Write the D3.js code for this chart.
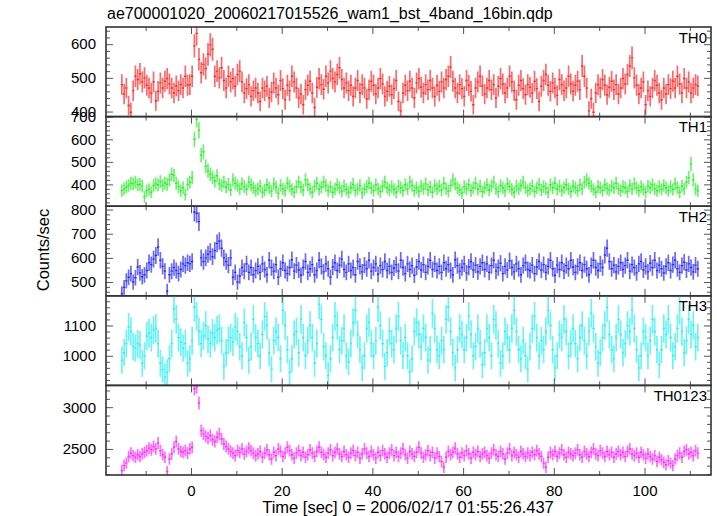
<!DOCTYPE html>
<html><head><meta charset="utf-8">
<script src="https://cdn.jsdelivr.net/npm/d3@7"></script>
<style>
body{margin:0;background:#fff;}
svg text{font-family:"Liberation Sans",Arial,Helvetica,sans-serif;fill:#000;}
</style>
</head><body>
<svg id="chart" width="717" height="516"></svg>
<script>
// ---------------- data (0.5 s bins starting at t = -15.5 s) ----------------
const binWidth = 0.5;
const tStart = -15.5;
const bandNames = ["TH0", "TH1", "TH2", "TH3", "TH0123"];

const th0 = [
480,452,470,418,398,462,505,495,512,488,500,478,470,455,488,432,460,485,470,490,
498,482,470,455,476,462,480,470,505,478,480,505,595,632,555,515,540,528,570,598,
585,505,520,500,530,492,470,505,488,498,475,510,520,488,455,468,480,445,462,470,
455,430,470,462,475,440,458,485,470,450,492,468,435,478,462,505,488,470,440,452,
420,465,478,490,455,412,472,498,480,466,505,485,520,498,488,510,530,495,470,485,
462,478,445,470,492,455,480,470,438,465,490,478,452,470,498,482,445,460,475,450,
468,492,430,402,455,478,462,490,470,440,485,498,472,455,480,465,492,470,445,478,
460,488,470,495,505,532,490,470,455,480,468,445,492,478,460,420,470,488,505,476,
452,470,492,465,480,440,475,498,482,455,470,505,488,462,435,478,492,468,450,480,
472,455,490,468,430,475,492,510,478,460,485,470,448,495,480,462,470,505,482,460,
478,490,465,535,505,470,402,438,398,455,480,470,495,478,450,472,490,465,480,452,
470,498,482,510,535,560,500,478,452,470,488,420,462,445,470,492,478,455,435,470,
452,480,468,490,470,505,482,455,498,470,488,455,470,480,476];

const th1 = [
372,380,388,395,405,402,410,398,400,392,345,372,378,365,395,402,398,412,395,405,
400,420,445,440,405,390,372,385,355,400,410,430,600,690,640,530,545,480,460,445,
430,415,438,402,395,410,388,400,375,420,405,395,380,402,390,378,410,398,385,372,
380,392,365,375,398,385,370,402,388,360,395,380,372,405,392,378,365,390,410,388,
375,420,398,380,365,392,405,378,388,410,395,372,388,365,380,398,385,370,392,378,
365,385,400,372,380,395,362,378,390,405,385,372,398,380,368,392,410,385,375,390,
378,365,392,385,372,398,380,410,395,372,385,368,392,380,402,375,388,365,395,380,
392,375,405,382,370,395,420,402,385,375,362,390,380,398,372,385,405,378,392,368,
385,398,375,392,410,380,368,395,385,372,402,390,378,365,392,380,395,410,385,372,
380,392,368,385,400,375,390,382,365,398,385,405,378,392,372,385,398,380,368,392,
385,372,398,380,410,420,405,392,378,365,390,385,372,398,382,375,392,385,405,380,
372,390,385,368,395,380,402,385,372,390,378,365,392,385,398,380,372,390,378,395,
385,372,390,378,402,385,365,392,380,410,430,490,420,380,372];

const th2 = [
452,478,505,520,535,500,518,562,538,522,530,548,580,572,595,610,645,590,565,545,
462,530,545,560,548,535,552,575,568,580,575,585,790,785,750,600,585,600,615,625,
605,630,660,670,640,600,585,570,600,520,540,500,525,560,545,575,540,560,530,548,
565,540,575,552,530,590,560,545,572,520,555,580,548,535,560,592,545,570,550,528,
560,585,540,555,572,530,548,590,565,542,575,555,520,562,580,548,570,595,552,540,
575,548,560,530,585,565,542,570,555,590,545,560,575,532,568,552,585,548,565,540,
558,572,545,590,560,535,575,552,568,528,562,585,550,572,540,565,590,552,575,548,
565,540,580,555,572,548,530,592,568,545,560,575,538,562,585,550,570,542,565,580,
552,575,540,568,590,545,560,578,535,565,550,588,560,542,575,555,530,568,580,552,
548,570,535,562,585,550,572,540,565,590,555,528,570,552,580,545,568,555,590,562,
540,565,580,548,572,555,530,568,590,560,548,575,560,612,640,585,555,570,542,565,
580,552,568,590,545,572,560,538,575,585,550,565,542,578,560,590,548,570,555,538,
565,580,548,572,590,555,540,568,582,550,575,560,542,570,555];

const th3 = [
985,1010,1040,1095,1080,1030,1025,1040,1035,975,1000,1065,1075,1060,1085,1090,1040,975,955,930,
945,990,1040,1155,1120,1060,1045,1025,1040,975,990,1050,1160,1130,1080,1040,1065,1100,1055,1040,
1075,1060,1085,1090,1050,965,1010,1050,1060,1045,1095,1080,1030,1000,1110,1060,985,1030,1120,1060,
1040,1000,1070,1130,1100,1010,955,1050,1080,1060,990,1150,1100,1020,945,990,1070,1080,1010,1120,
1060,1000,1050,1100,1060,975,1040,1170,1120,1030,1000,935,990,1060,1130,1100,1020,1050,1090,1000,
980,1040,1110,1150,1070,1020,960,1000,1090,1110,1040,1000,1050,1160,1100,1040,965,1010,1080,1040,
1020,1090,1130,1050,1000,1060,1000,945,990,1080,1110,1070,1030,1090,1060,985,1020,1140,1090,1020,
1000,1050,1020,1120,1160,1080,1010,960,1020,1090,1070,1020,1060,1130,1070,1000,1030,1090,1040,970,
1010,1090,1060,1000,1120,1100,1040,975,1000,1080,1060,1020,1090,1150,1080,1020,990,1050,1000,955,
1030,1090,1130,1060,1000,1050,1020,1080,1150,1100,1020,960,1000,1070,1060,1120,1080,1000,1040,1090,
1040,990,1060,1100,1050,1000,1080,1140,1090,1030,975,1010,1060,1100,1160,1070,1020,990,1060,1120,
1070,1010,1040,1100,1080,1150,1090,1020,960,1000,1080,1060,1000,1050,1120,1080,1020,970,1020,1090,
1070,1120,1060,1000,1030,1090,1150,1080,1010,1050,1120,1070,1100,1030,1060];

const th0123 = [
2240,2300,2330,2410,2450,2420,2400,2430,2410,2440,2460,2480,2510,2490,2530,2500,2570,2480,2430,2400,
2230,2380,2440,2520,2590,2500,2470,2460,2480,2450,2500,2520,3220,3245,3050,2720,2680,2650,2630,2660,
2610,2590,2640,2680,2620,2560,2530,2500,2470,2450,2420,2480,2460,2500,2440,2470,2510,2480,2450,2420,
2440,2470,2400,2450,2490,2430,2380,2460,2420,2500,2470,2410,2450,2520,2480,2430,2390,2450,2480,2420,
2460,2400,2430,2490,2450,2410,2470,2520,2460,2430,2400,2450,2490,2420,2460,2500,2440,2410,2470,2430,
2400,2450,2480,2420,2460,2390,2440,2500,2450,2410,2470,2430,2390,2460,2420,2480,2440,2400,2450,2490,
2420,2460,2410,2450,2500,2430,2390,2470,2440,2410,2460,2520,2450,2400,2430,2480,2420,2460,2390,2450,
2410,2350,2280,2400,2470,2430,2460,2510,2440,2400,2450,2420,2480,2440,2390,2460,2430,2470,2410,2440,
2460,2420,2390,2450,2490,2430,2410,2470,2440,2380,2450,2500,2420,2460,2430,2400,2470,2440,2410,2450,
2420,2460,2430,2480,2440,2410,2330,2280,2400,2460,2430,2470,2410,2450,2490,2430,2400,2460,2440,2420,
2450,2490,2430,2400,2470,2440,2410,2460,2500,2440,2420,2480,2450,2410,2470,2430,2460,2400,2440,2470,
2430,2460,2410,2470,2500,2440,2420,2450,2400,2460,2430,2390,2440,2410,2380,2420,2350,2400,2370,2340,
2310,2360,2330,2300,2380,2420,2450,2400,2470,2490,2440,2460,2420,2480,2450];

const seriesValues = [th0, th1, th2, th3, th0123];

// axis settings
const yDomains = [[385, 651], [303, 701], [443, 814], [902, 1198], [2188, 3261]];
const yMajorTicks = [[400, 500, 600], [400, 500, 600, 700], [500, 600, 700, 800], [1000, 1100], [2500, 3000]];
const yMinorStep = [20, 20, 20, 20, 100];
const xTickLabels = [0, 20, 40, 60, 80, 100];
const xMinorTicks = [-10, 10, 30, 50, 70, 90, 110];
const xDomain = [-18.74, 114.66];

const title = "ae700001020_20060217015526_wam1_bst_4band_16bin.qdp";
const xTitle = "Time [sec] 0 = 2006/02/17 01:55:26.437";
const yTitle = "Counts/sec";
const colors = ["#ff2a2a", "#2eee2e", "#2a2aff", "#2ef0f0", "#ff2eff"];

// ---------------- layout ----------------
const left = 106, right = 711, top0 = 27, panelH = 89.6;
const svg = d3.select("#chart");
const fmt = d3.format("d");

const x = d3.scaleLinear().domain(xDomain).range([left, right]);

// error from Poisson statistics of counts in a bin
const errOf = v => Math.sqrt(v / binWidth);

seriesValues.forEach((vals, p) => {
  const yTop = top0 + p * panelH, yBot = yTop + panelH;
  const y = d3.scaleLinear().domain(yDomains[p]).range([yBot, yTop]);
  const g = svg.append("g");

  const clipId = "clip" + p;
  svg.append("clipPath").attr("id", clipId)
    .append("rect").attr("x", left).attr("y", yTop).attr("width", right - left).attr("height", panelH);

  // y error bars and x error bars (bin widths)
  const ePath = d3.path(), sPath = d3.path();
  vals.forEach((v, i) => {
    const t0 = tStart + i * binWidth, t1 = t0 + binWidth, tc = t0 + binWidth / 2;
    const e = errOf(v);
    sPath.moveTo(x(t0), y(v)); sPath.lineTo(x(t1), y(v));
    ePath.moveTo(x(tc), y(v - e)); ePath.lineTo(x(tc), y(v + e));
  });
  const dg = g.append("g").attr("clip-path", "url(#" + clipId + ")");
  dg.append("path").attr("d", ePath.toString())
    .attr("fill", "none").attr("stroke", colors[p]).attr("stroke-width", 1.7).attr("stroke-opacity", 0.7);
  dg.append("path").attr("d", sPath.toString())
    .attr("fill", "none").attr("stroke", colors[p]).attr("stroke-width", 1.4);

  const [d0, d1] = yDomains[p];
  const minor = d3.range(Math.ceil(d0 / yMinorStep[p]) * yMinorStep[p], d1, yMinorStep[p])
    .filter(v => !yMajorTicks[p].includes(v));
  const styleAxis = sel => {
    sel.select(".domain").remove();
    sel.selectAll(".tick line").attr("stroke", "#555");
    sel.selectAll("text").attr("font-size", "15px").attr("font-family", "Liberation Sans, Arial, sans-serif").attr("fill", "#000");
  };

  // left y axis with labels
  g.append("g").attr("transform", `translate(${left},0)`)
    .call(d3.axisLeft(y).tickValues(yMajorTicks[p]).tickSize(-7).tickPadding(10).tickFormat(fmt)).call(styleAxis);
  g.append("g").attr("transform", `translate(${left},0)`)
    .call(d3.axisLeft(y).tickValues(minor).tickSize(-4).tickFormat("")).call(styleAxis);
  // right y axis
  g.append("g").attr("transform", `translate(${right},0)`)
    .call(d3.axisRight(y).tickValues(yMajorTicks[p]).tickSize(-7).tickFormat("")).call(styleAxis);
  g.append("g").attr("transform", `translate(${right},0)`)
    .call(d3.axisRight(y).tickValues(minor).tickSize(-4).tickFormat("")).call(styleAxis);
  // top x ticks
  g.append("g").attr("transform", `translate(0,${yTop})`)
    .call(d3.axisTop(x).tickValues(xTickLabels).tickSize(-7).tickFormat("")).call(styleAxis);
  g.append("g").attr("transform", `translate(0,${yTop})`)
    .call(d3.axisTop(x).tickValues(xMinorTicks).tickSize(-4).tickFormat("")).call(styleAxis);
  // bottom x ticks (labels only on last panel)
  const last = p === seriesValues.length - 1;
  const bx = d3.axisBottom(x).tickValues(xTickLabels).tickSize(-7).tickPadding(10).tickFormat(last ? fmt : "");
  g.append("g").attr("transform", `translate(0,${yBot})`).call(bx).call(styleAxis);
  g.append("g").attr("transform", `translate(0,${yBot})`)
    .call(d3.axisBottom(x).tickValues(xMinorTicks).tickSize(-4).tickFormat("")).call(styleAxis);

  // frame
  g.append("rect").attr("x", left).attr("y", yTop).attr("width", right - left).attr("height", panelH)
    .attr("fill", "none").attr("stroke", "#333").attr("stroke-width", 1.6);

  // band label
  g.append("text").attr("x", right - 4).attr("y", yTop + 15.5)
    .attr("text-anchor", "end").attr("font-size", "15px").text(bandNames[p]);
});

svg.append("text").attr("x", 107).attr("y", 19).attr("font-size", "16px").text(title);
svg.append("text").attr("x", 408).attr("y", 513)
  .attr("text-anchor", "middle").attr("font-size", "16.5px").text(xTitle);
svg.append("text").attr("transform", "translate(48.5,250) rotate(-90)")
  .attr("text-anchor", "middle").attr("font-size", "16.5px").text(yTitle);
</script>
</body></html>
